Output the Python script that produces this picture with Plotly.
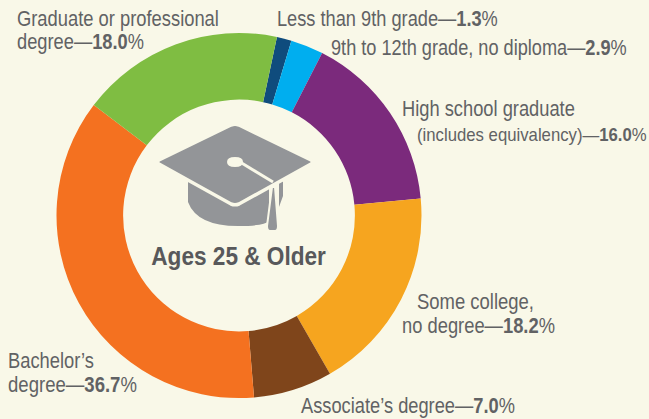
import json
import plotly.graph_objects as go

categories = ["Less than 9th grade", "9th to 12th grade, no diploma", "High school graduate (includes equivalency)",
              "Some college, no degree", "Associate's degree", "Bachelor's degree", "Graduate or professional degree"]
values = [1.3, 2.9, 16.0, 18.2, 7.0, 36.7, 18.0]
colors = ["#0f4c7d", "#00aeef", "#7b2a7c", "#f6a51f", "#7f451b", "#f47120", "#7fbd42"]

W, H = 649, 419
BG = "#f9f8e8"
INK = "#616264"
TITLE_INK = "#58595b"
GREY = "#939598"
FONT = "Liberation Sans, Arial, sans-serif"

# (x, y, size, width on the page, text)
labels = [
    (15, 18, 22, 202, "Graduate or professional"),
    (15, 42, 22, 127, "degree—<b>18.0</b>%"),
    (275, 18, 22, 221, "Less than 9th grade—<b>1.3</b>%"),
    (329, 47, 22, 296, "9th to 12th grade, no diploma—<b>2.9</b>%"),
    (400, 108, 22, 173, "High school graduate"),
    (415, 134, 19, 230, "(includes equivalency)—<b>16.0</b>%"),
    (415, 301, 22, 117, "Some college,"),
    (400, 325, 22, 153, "no degree—<b>18.2</b>%"),
    (299, 405, 22, 214, "Associate’s degree—<b>7.0</b>%"),
    (6, 360, 22, 86, "Bachelor’s"),
    (6, 384, 22, 129, "degree—<b>36.7</b>%"),
]
title = (238, 256, 25, 175, "<b>Ages 25 &amp; Older</b>")

cx, cy, r = 239, 215.5, 182.5
fig = go.Figure(go.Pie(
    values=values, labels=categories, sort=False, direction="clockwise", rotation=12,
    hole=0.635, textinfo="none", showlegend=False,
    marker=dict(colors=colors, line=dict(width=0)),
    domain=dict(x=[(cx - r) / W, (cx + r) / W], y=[1 - (cy + r) / H, 1 - (cy - r) / H]),
))


def shape(path, fill=None, line=None, width=0):
    return dict(type="path", xref="paper", yref="paper", layer="above", path=path,
                fillcolor=fill or "rgba(0,0,0,0)",
                line=dict(color=line or "rgba(0,0,0,0)", width=width))


def P(cmds):
    out = []
    for c in cmds:
        if isinstance(c, str):
            out.append(c)
        else:
            out.append(f"{c[0] / W:.5f},{1 - c[1] / H:.5f}")
    return " ".join(out)


base = P(["M", (188, 181), "L", (188, 202), "Q", (197, 226), (238, 226), "Q", (264, 226), (269, 221),
          "L", (269, 188), "L", (283, 181), "L", (283, 196), "L", (279, 207), "L", (279, 181), "L", (235, 160), "Z"])
diamond = P(["M", (231, 125), "Q", (235, 123.5), (239, 125), "L", (311, 160), "Q", (314, 162), (311, 164),
             "L", (239, 204), "Q", (235, 205.5), (231, 204), "L", (159, 164), "Q", (156, 162), (159, 160), "Z"])
button = P(["M", (227, 162), "Q", (227, 157), (235, 157), "Q", (243, 157), (243, 162), "Q", (243, 167), (235, 167),
            "Q", (227, 167), (227, 162), "Z"])
cord = P(["M", (240, 162), "L", (273, 182)])
tassel = P(["M", (272, 187), "L", (275, 187), "L", (278, 226), "Q", (278, 231), (275, 231), "L", (270, 231),
            "Q", (267, 231), (267, 226), "Z"])

notes = [
    dict(x=x / W, y=1 - y / H, xref="paper", yref="paper", xanchor="left", yanchor="middle", showarrow=False,
         text=t, font=dict(family=FONT, size=s, color=INK), align="left")
    for x, y, s, _, t in labels
]
notes.append(dict(x=title[0] / W, y=1 - title[1] / H, xref="paper", yref="paper", xanchor="center", yanchor="middle",
                  showarrow=False, text=title[4], font=dict(family=FONT, size=title[2], color=TITLE_INK)))

fig.update_layout(
    width=W, height=H, margin=dict(l=0, r=0, t=0, b=0), autosize=False,
    paper_bgcolor=BG, plot_bgcolor=BG,
    shapes=[
        shape(base, fill=GREY),
        shape(diamond, fill=GREY, line=BG, width=3.5),
        shape(button, fill=BG),
        shape(cord, line=BG, width=3),
        shape(tassel, fill=GREY, line=BG, width=2),
    ],
    annotations=notes,
)

# No narrow face is installed, so the real text is condensed horizontally to the reference's widths.
targets = [w for _, _, _, w, _ in labels] + [title[3]]
squeeze = """
document.documentElement.style.margin = '0';
document.body.style.margin = '0';
document.body.style.background = '%s';
var widths = %s;
document.querySelectorAll('.annotation-text').forEach(function (el, i) {
  var b = el.getBBox();
  var k = widths[i] / b.width;
  var ox = i === widths.length - 1 ? b.x + b.width / 2 : b.x;
  el.setAttribute('transform', 'translate(' + ox * (1 - k) + ',0) scale(' + k + ',1)');
});
""" % (BG, json.dumps(targets))

fig.write_html("out.html", post_script=squeeze, config={"displayModeBar": False})
